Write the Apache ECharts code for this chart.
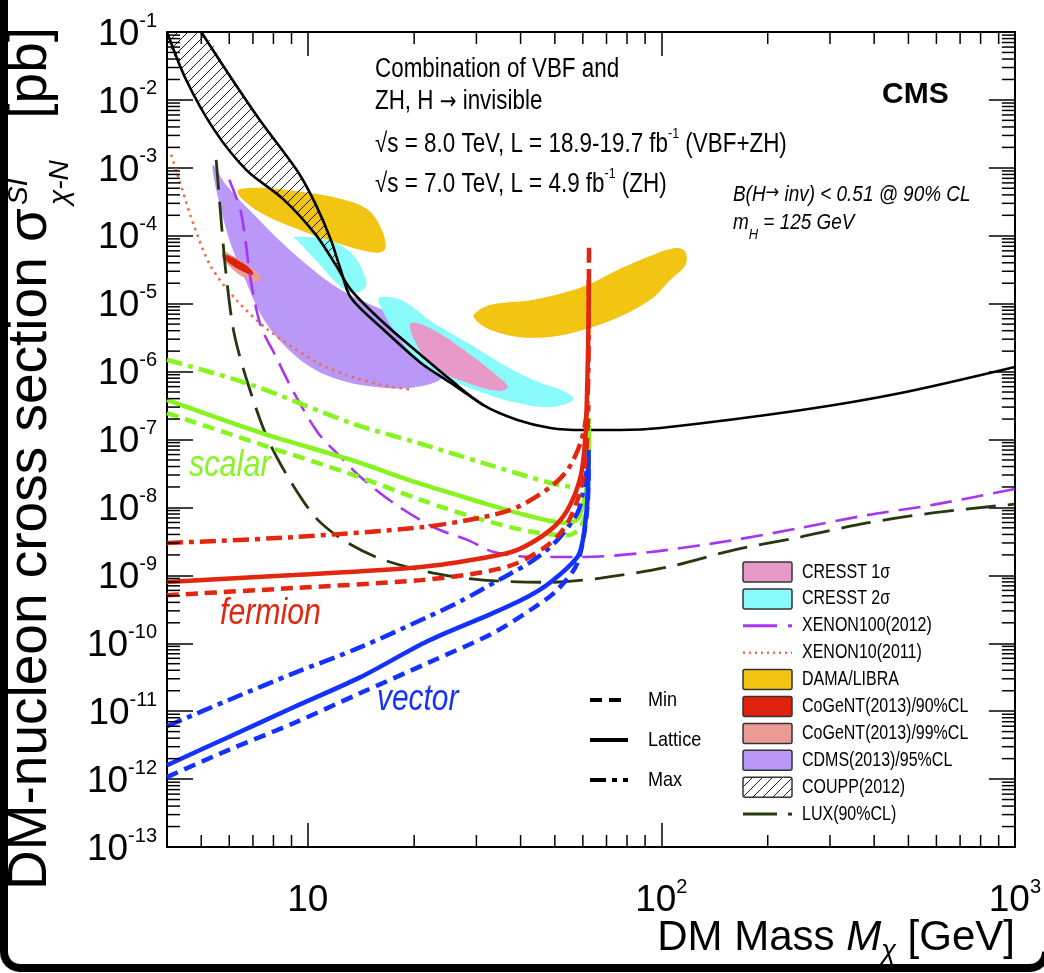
<!DOCTYPE html>
<html>
<head>
<meta charset="utf-8">
<script src="https://cdn.jsdelivr.net/npm/echarts@6/dist/echarts.min.js"></script>
<style>
html,body{margin:0;padding:0;background:#fff;overflow:hidden}
#chart{width:1044px;height:973px}
</style>
</head>
<body>
<div id="chart"></div>
<script>
// ---------------- axis ranges & tick labels ----------------
const massRange = [4, 1000];
const sigmaRange = [1e-13, 1e-1];
const xLabelValues = [10, 100, 1000];
const xMinorTicks = [5, 6, 7, 8, 9, 20, 30, 40, 50, 60, 70, 80, 90, 200, 300, 400, 500, 600, 700, 800, 900];
const yDecadeExponents = [-13, -12, -11, -10, -9, -8, -7, -6, -5, -4, -3, -2, -1];
const yMinorMultipliers = [2, 3, 4, 5, 6, 7, 8, 9];

// ---------------- CMS limits  [mass GeV, sigma pb] ----------------
const scalarMax = [[4.0,1.49e-6],[6.92,6.4e-7],[13.25,1.75e-7],[20.5,8.9e-8],[31.4,4.5e-8],[48.6,2.29e-8],[57.2,2.0e-8],[60,2.71e-8],[61.8,5.9e-8],[62.45,2.07e-7]];
const scalarLattice = [[4.0,3.82e-7],[7.38,1.25e-7],[13.25,5.0e-8],[20.5,2.29e-8],[31.4,1.16e-8],[39.2,8.3e-9],[48.6,6.3e-9],[53.6,5.9e-9],[57.9,6.7e-9],[60,1.08e-8],[61.8,2.5e-8],[62.45,1.64e-7]];
const scalarMin = [[4.0,2.45e-7],[7.73,7.8e-8],[13.25,3.1e-8],[20.9,1.29e-8],[31.4,6.5e-9],[43.5,4.34e-9],[54.3,3.9e-9],[59.1,5.1e-9],[61.8,1.16e-8],[62.45,1.29e-7]];

const fermionMax = [[4.0,2.99e-9],[9.15,3.66e-9],[20.9,5.1e-9],[31.4,7.2e-9],[39.2,1.01e-8],[48.6,2.0e-8],[54.3,3.55e-8],[59.1,8.9e-8],[61.4,2.3e-7],[62.2,1.06e-6],[62.35,1.14e-5],[62.45,6.65e-5]];
const fermionLattice = [[4.0,8.0e-10],[9.15,1.01e-9],[20.9,1.33e-9],[31.4,1.8e-9],[39.2,2.37e-9],[48.6,4.67e-9],[54.3,9.2e-9],[59.1,2.82e-8],[61.0,1.1e-7],[61.8,7.6e-7],[62.2,4.1e-6],[62.45,2.84e-5]];
const fermionMin = [[4.0,5.1e-10],[9.15,6.5e-10],[20.9,8.5e-10],[31.4,1.12e-9],[39.2,1.52e-9],[48.6,2.99e-9],[54.3,5.9e-9],[59.1,1.8e-8],[61.4,7.0e-8],[62.2,3.2e-7]];

const vectorMax = [[4.0,6.0e-12],[5.96,1.45e-11],[9.15,3.63e-11],[14.1,8.75e-11],[21.8,2.43e-10],[27.1,4.18e-10],[35.1,8.8e-10],[43.5,1.67e-9],[50.8,3.3e-9],[57.9,8.2e-9],[60,1.62e-8],[62.2,5.0e-8]];
const vectorLattice = [[4.0,1.6e-12],[5.96,4.14e-12],[9.15,1.15e-11],[14.1,3.17e-11],[21.8,1.07e-10],[33.4,2.78e-10],[41.8,4.8e-10],[48.6,7.9e-10],[57.9,1.86e-9],[60,3.3e-9],[61.8,1.29e-8],[62.3,7.0e-8]];
const vectorMin = [[4.0,1.07e-12],[5.96,2.67e-12],[9.15,6.7e-12],[14.1,1.85e-11],[21.8,5.1e-11],[33.4,1.41e-10],[44.8,3.66e-10],[50.8,6.1e-10],[57.9,1.52e-9],[61.8,1.02e-8],[62.3,4.5e-8]];

// ---------------- direct-detection limits ----------------
const xenon100 = [[6.0,6.7e-4],[6.48,2.18e-4],[6.92,2.03e-5],[7.38,4.56e-6],[8.03,1.89e-6],[9.15,4.85e-7],[10.7,1.25e-7],[12.4,5.5e-8],[14.1,2.81e-8],[17.5,1.16e-8],[22.7,5.1e-9],[28.4,3.3e-9],[33.6,2.2e-9],[43.5,1.86e-9],[60,1.86e-9],[93.1,2.2e-9],[160,3.3e-9],[247,4.98e-9],[382,7.7e-9],[586,1.09e-8],[1000,1.87e-8]];
const lux = [[5.51,1.31e-3],[5.69,1.71e-4],[5.88,2.66e-5],[6.19,3.71e-6],[6.79,6.4e-7],[7.73,9.9e-8],[9.15,2.0e-8],[10.7,6.5e-9],[13.0,2.99e-9],[16.42,1.68e-9],[22.7,1.08e-9],[31.4,8.5e-10],[48.6,7.9e-10],[67.3,9.1e-10],[104,1.32e-9],[160,2.35e-9],[247,3.66e-9],[382,5.9e-9],[586,8.3e-9],[1000,1.12e-8]];
const xenon10 = [[4.11,1.56e-3],[4.39,5.3e-4],[4.78,1.36e-4],[5.33,3.48e-5],[6.28,1.14e-5],[7.73,4.1e-6],[10.7,1.34e-6],[13.25,8.4e-7],[16.1,6.4e-7],[19.6,5.4e-7]];

// black curves (COUPP band edges and the boundary continuing to high mass)
const blackUpper = [[5.0,1e-1],[6.07,2.12e-2],[7.38,4.76e-3],[9.39,8.7e-4],[10.55,2.85e-4],[11.63,8.7e-5],[12.4,3.15e-5],[13.25,1.22e-5],[16.42,4.1e-6],[20.9,1.34e-6],[25.4,6.8e-7],[31.4,3.2e-7]];
const blackLower = [[4.0,1e-1],[4.53,1.98e-2],[5.44,3.62e-3],[6.70,9.35e-4],[8.57,3.38e-4],[10.55,1.03e-4],[12.0,3.72e-5],[13.25,1.6e-5],[16.42,5.2e-6],[20.9,1.76e-6],[25.4,7.5e-7],[31.4,3.2e-7],[39.2,1.94e-7],[48.6,1.48e-7],[60,1.38e-7],[76.6,1.38e-7],[99.5,1.48e-7],[247,2.7e-7],[472,4.8e-7],[1000,1.17e-6]];
const couppBand = [[5.0,1e-1],[6.07,2.12e-2],[7.38,4.76e-3],[9.39,8.7e-4],[10.55,2.85e-4],[11.63,8.7e-5],[12.4,3.15e-5],[12.74,2.02e-5],[12.0,3.72e-5],[10.55,1.03e-4],[8.57,3.38e-4],[6.70,9.35e-4],[5.44,3.62e-3],[4.53,1.98e-2],[4.0,1e-1]];

// signal regions (closed contours)
const damaLow = [[6.36,4.73e-4],[7.38,5.07e-4],[9.57,4.43e-4],[12.67,3.38e-4],[14.8,2.41e-4],[16.1,1.31e-4],[16.6,6.6e-5],[15.6,5.6e-5],[11.86,8.1e-5],[9.15,1.31e-4],[7.38,2.17e-4],[6.48,3.6e-4]];
const damaHigh = [[29.5,6.84e-6],[32.9,9.6e-6],[43.5,1.14e-5],[60,1.77e-5],[75.2,3.14e-5],[93.1,5.05e-5],[109.6,6.6e-5],[117,5.8e-5],[117,3.7e-5],[106,2.24e-5],[93.1,1.14e-5],[75.2,6.2e-6],[60,4.1e-6],[48.6,3.24e-6],[39.2,3.24e-6],[32.9,4.1e-6],[30.2,5.4e-6]];
const cresst2Low = [[9.15,9.6e-5],[11.41,8.7e-5],[13.25,5.6e-5],[14.4,2.84e-5],[14.6,1.77e-5],[13.5,1.44e-5],[12.4,1.77e-5],[10.7,4.0e-5],[9.39,8.4e-5]];
const cresst2High = [[15.9,1.22e-5],[18.3,1.14e-5],[22.7,5.2e-6],[28.4,2.64e-6],[35.1,1.34e-6],[43.5,7.5e-7],[54.3,4.83e-7],[56.5,3.8e-7],[48.6,3.0e-7],[39.2,3.45e-7],[31.4,4.84e-7],[25.4,7.5e-7],[20.5,1.48e-6],[17.5,4.1e-6],[16.1,8.96e-6]];
const cresst1 = [[19.6,5.2e-6],[22.7,4.1e-6],[28.4,1.88e-6],[33.6,9.5e-7],[36.8,6.0e-7],[34.4,5.2e-7],[28.4,6.8e-7],[22.7,1.17e-6],[20,2.94e-6]];
const cdms = [[5.40,1.11e-3],[5.88,5.6e-4],[6.92,2.25e-4],[8.41,8.1e-5],[10.2,3.36e-5],[12.4,1.6e-5],[15.1,9.6e-6],[18.3,6.2e-6],[21.6,3.47e-6],[24.3,1.76e-6],[24.6,9.9e-7],[23.0,7.0e-7],[19.2,5.7e-7],[15.8,5.9e-7],[12.67,7.2e-7],[10.2,1.16e-6],[8.41,2.7e-6],[7.38,6.8e-6],[6.70,2.08e-5],[6.07,7.3e-5],[5.69,2.39e-4],[5.44,6.7e-4]];
const cogent99 = [[5.77,5.8e-5],[6.28,4.7e-5],[6.92,3.37e-5],[7.38,2.4e-5],[7.15,2.1e-5],[6.48,2.57e-5],[6.0,3.6e-5],[5.73,4.7e-5]];
const cogent90 = [[5.88,5.2e-5],[6.48,4.1e-5],[6.92,3.15e-5],[7.01,2.66e-5],[6.70,2.84e-5],[6.15,3.6e-5],[5.88,4.4e-5]];

// legend / key texts
const legendNames = ['CRESST 1σ','CRESST 2σ','XENON100(2012)','XENON10(2011)','DAMA/LIBRA','CoGeNT(2013)/90%CL','CoGeNT(2013)/99%CL','CDMS(2013)/95%CL','COUPP(2012)','LUX(90%CL)'];
const keyNames = ['Min', 'Lattice', 'Max'];

// ---------------- styling ----------------
const SANS = '"Liberation Sans", Arial, Helvetica, sans-serif';
const ARROWF = '"DejaVu Sans", sans-serif';
const C = {
  green: '#86f51f', red: '#e3260f', blue: '#1432ff',
  purpleLine: '#a636f2', orangeDot: '#ef6f42', lux: '#26380f',
  dama: '#f2c513', cresst2: '#8afbfb', cresst1: '#e79ac8', cdms: '#b998f8',
  cogent90: '#df220e', cogent99: '#ec9b94'
};
const DASH = [12, 7];
const DASHDOT = [16, 6, 5, 6];

function makeHatch() {
  const c = document.createElement('canvas');
  c.width = 10; c.height = 10;
  const g = c.getContext('2d');
  g.strokeStyle = '#1a1a1a'; g.lineWidth = 1;
  g.beginPath();
  g.moveTo(0, 10); g.lineTo(10, 0);
  g.moveTo(-2, 2); g.lineTo(2, -2);
  g.moveTo(8, 12); g.lineTo(12, 8);
  g.stroke();
  return c;
}
const hatchFill = { image: makeHatch(), repeat: 'repeat' };

function region(name, pts, fill, z) {
  return {
    name: name, type: 'custom', z: z, silent: true, clip: true,
    data: [pts[0]], encode: { x: 0, y: 1 },
    renderItem: function (params, api) {
      return {
        type: 'polygon',
        shape: { points: pts.map(function (p) { return api.coord(p); }), smooth: 0.35 },
        style: { fill: fill, stroke: null }
      };
    }
  };
}
function curve(name, data, color, width, dash, z, smooth) {
  return {
    name: name, type: 'line', data: data, z: z, silent: true,
    showSymbol: false, symbol: 'none', smooth: smooth === undefined ? 0.3 : smooth,
    lineStyle: { color: color, width: width, type: dash || 'solid', cap: 'butt' }
  };
}

const yMinorTicks = [];
yDecadeExponents.slice(0, -1).forEach(function (e) {
  yMinorMultipliers.forEach(function (m) { yMinorTicks.push(m * Math.pow(10, e)); });
});

const tickStyle = { stroke: '#000', lineWidth: 1.5 };
const xMinorSeries = {
  type: 'custom', z: 30, silent: true, clip: false,
  data: xMinorTicks.map(function (v) { return [v, 1e-7]; }), encode: { x: 0, y: 1 },
  renderItem: function (params, api) {
    const v = api.value(0);
    const b = api.coord([v, sigmaRange[0]]);
    const t = api.coord([v, sigmaRange[1]]);
    return { type: 'group', children: [
      { type: 'line', shape: { x1: b[0], y1: b[1], x2: b[0], y2: b[1] - 12 }, style: tickStyle },
      { type: 'line', shape: { x1: t[0], y1: t[1], x2: t[0], y2: t[1] + 12 }, style: tickStyle }
    ]};
  }
};
const yMinorSeries = {
  type: 'custom', z: 30, silent: true, clip: false,
  data: yMinorTicks.map(function (v) { return [20, v]; }), encode: { x: 0, y: 1 },
  renderItem: function (params, api) {
    const v = api.value(1);
    const l = api.coord([massRange[0], v]);
    const r = api.coord([massRange[1], v]);
    return { type: 'group', children: [
      { type: 'line', shape: { x1: l[0], y1: l[1], x2: l[0] + 13, y2: l[1] }, style: tickStyle },
      { type: 'line', shape: { x1: r[0], y1: r[1], x2: r[0] - 13, y2: r[1] }, style: tickStyle }
    ]};
  }
};

const labelRich = {
  b: { fontSize: 37, fontFamily: SANS, color: '#000', verticalAlign: 'bottom', lineHeight: 42 },
  s: { fontSize: 20, fontFamily: SANS, color: '#000', verticalAlign: 'top', lineHeight: 22 }
};
function xFmt(v) {
  if (xLabelValues.indexOf(Math.round(v)) < 0) return '';
  const e = Math.round(Math.log10(v));
  return e === 1 ? '{b|10}' : '{b|10}{s|' + e + '}';
}
function yFmt(v) {
  const e = Math.round(Math.log10(v));
  if (yDecadeExponents.indexOf(e) < 0) return '';
  return '{b|10}{s|' + e + '}';
}
const axLine = { show: true, onZero: false, lineStyle: { color: '#000', width: 2 } };
const axTick = { show: true, inside: true, interval: 0, length: 24, lineStyle: { color: '#000', width: 1.5 } };
const common = { type: 'log', logBase: 10, splitLine: { show: false }, minorTick: { show: false }, minorSplitLine: { show: false } };

// ---------- measurements for y title layout ----------
const mctx = document.createElement('canvas').getContext('2d');
function textW(font, s) { mctx.font = font; return mctx.measureText(s).width; }
const yTitleMain = 'DM-nucleon cross section σ';
const yTitleSize = Math.round(50 * 676 / textW('50px ' + SANS, yTitleMain));
const yTitleLen = textW(yTitleSize + 'px ' + SANS, yTitleMain);

// ---------- graphic (texts, legend, frame) ----------
const G = [];
function txt(x, y, text, style, extra) {
  G.push(Object.assign({ type: 'text', x: x, y: y, z: 100, silent: true,
    style: Object.assign({ text: text, fill: '#000', fontFamily: SANS, fontSize: 25, align: 'left', verticalAlign: 'middle' }, style) }, extra || {}));
}
const NX = 0.83;   // horizontal condensing of the narrow Helvetica used in the figure
const annRich = {
  n: { fontSize: 27, fontFamily: SANS, fill: '#000', verticalAlign: 'bottom', lineHeight: 32 },
  a: { fontSize: 24, fontFamily: ARROWF, fill: '#000', verticalAlign: 'bottom', lineHeight: 31 },
  sup: { fontSize: 15, fontFamily: SANS, fill: '#000', verticalAlign: 'top', lineHeight: 15 }
};
txt(375, 67, '{n|Combination of VBF and}', { rich: annRich }, { scaleX: NX });
txt(375, 99, '{n|ZH, H }{a|→}{n| invisible}', { rich: annRich }, { scaleX: NX });
txt(375, 142, '{n|√s = 8.0 TeV, L = 18.9-19.7 fb}{sup|-1}{n| (VBF+ZH)}', { rich: annRich }, { scaleX: NX });
txt(375, 182, '{n|√s = 7.0 TeV, L = 4.9 fb}{sup|-1}{n| (ZH)}', { rich: annRich }, { scaleX: NX });
txt(882, 95, 'CMS', { fontWeight: 'bold', fontSize: 30 });
const itRich = {
  i: { fontSize: 22, fontStyle: 'italic', fontFamily: SANS, fill: '#000', verticalAlign: 'top', lineHeight: 25 },
  a: { fontSize: 19, fontStyle: 'italic', fontFamily: ARROWF, fill: '#000', verticalAlign: 'top', lineHeight: 25 },
  sub: { fontSize: 15, fontStyle: 'italic', fontFamily: SANS, fill: '#000', verticalAlign: 'bottom', lineHeight: 31 }
};
txt(733, 196, '{i|B(H}{a|→}{i| inv) < 0.51 @ 90% CL}', { rich: itRich }, { scaleX: 0.86 });
txt(733, 227, '{i|m}{sub|H}{i| = 125 GeV}', { rich: itRich }, { scaleX: 0.86 });
txt(189, 466, 'scalar', { fontStyle: 'italic', fontSize: 36, fill: C.green }, { scaleX: 0.85 });
txt(220, 614, 'fermion', { fontStyle: 'italic', fontSize: 36, fill: C.red }, { scaleX: 0.84 });
txt(377, 700, 'vector', { fontStyle: 'italic', fontSize: 36, fill: C.blue }, { scaleX: 0.83 });

// line-style key
const keyDash = [DASH, 'solid', DASHDOT];
keyNames.forEach(function (k, i) {
  const y = 700 + i * 40;
  G.push({ type: 'line', z: 100, silent: true, shape: { x1: 590, y1: y, x2: 628, y2: y },
    style: { stroke: '#000', lineWidth: 4, lineDash: keyDash[i] === 'solid' ? null : keyDash[i] } });
  txt(648, y, k, { fontSize: 21 }, { scaleX: 0.86 });
});

// legend
const legendKinds = ['box','box','line','dots','box','box','box','box','hatch','line'];
const legendColors = [C.cresst1, C.cresst2, C.purpleLine, C.orangeDot, C.dama, C.cogent90, C.cogent99, C.cdms, null, C.lux];
legendNames.forEach(function (n, i) {
  const y = 572 + i * 26.9;
  const kind = legendKinds[i];
  if (kind === 'box' || kind === 'hatch') {
    G.push({ type: 'rect', z: 100, silent: true, shape: { x: 743, y: y - 10, width: 49, height: 20, r: 2 },
      style: { fill: kind === 'hatch' ? hatchFill : legendColors[i], stroke: '#333', lineWidth: 1.5 } });
  } else if (kind === 'line') {
    G.push({ type: 'line', z: 100, silent: true, shape: { x1: 743, y1: y, x2: 777, y2: y }, style: { stroke: legendColors[i], lineWidth: 3 } });
    G.push({ type: 'line', z: 100, silent: true, shape: { x1: 788, y1: y, x2: 792, y2: y }, style: { stroke: legendColors[i], lineWidth: 3 } });
  } else {
    G.push({ type: 'line', z: 100, silent: true, shape: { x1: 743, y1: y, x2: 792, y2: y }, style: { stroke: legendColors[i], lineWidth: 2.5, lineDash: [2, 4] } });
  }
  txt(802, y, n, { fontSize: 20 }, { scaleX: 0.8 });
});

// axis titles
txt(1015, 941, '{r|DM Mass }{i|M}{sub|χ}{r| [GeV]}', { align: 'right', rich: {
  r: { fontSize: 42, fontFamily: SANS, fill: '#000', verticalAlign: 'top', lineHeight: 48 },
  i: { fontSize: 42, fontFamily: SANS, fontStyle: 'italic', fill: '#000', verticalAlign: 'top', lineHeight: 48 },
  sub: { fontSize: 27, fontFamily: SANS, fontStyle: 'italic', fill: '#000', verticalAlign: 'bottom', lineHeight: 27 } } });
txt(58, 890, yTitleMain, { fontSize: yTitleSize, align: 'left', verticalAlign: 'bottom' }, { rotation: Math.PI / 2 });
txt(33, 890 - yTitleLen - 3, 'SI', { fontStyle: 'italic', fontSize: 28, align: 'left', verticalAlign: 'bottom' }, { rotation: Math.PI / 2 });
txt(46, 890 - yTitleLen - 3, 'χ-N', { fontStyle: 'italic', fontSize: 28, align: 'left', verticalAlign: 'top' }, { rotation: Math.PI / 2 });
txt(58, 27, '[pb]', { fontSize: yTitleSize, align: 'right', verticalAlign: 'bottom' }, { rotation: Math.PI / 2 });

// outer rounded frame (left and bottom sides, bottom corners)
const framePts = [[4, -20], [4, 952]];
for (let t = 1; t <= 6; t++) { const a = Math.PI / 2 * t / 6; framePts.push([20 - 16 * Math.cos(a), 952 + 16 * Math.sin(a)]); }
framePts.push([1030, 968]);
for (let t = 1; t <= 6; t++) { const a = Math.PI / 2 * t / 6; framePts.push([1030 + 16 * Math.sin(a), 952 + 16 * Math.cos(a)]); }
G.push({ type: 'polyline', z: 200, silent: true, shape: { points: framePts }, style: { fill: null, stroke: '#000', lineWidth: 8 } });

const option = {
  animation: false,
  backgroundColor: '#fff',
  grid: { left: 167, right: 29, top: 32, bottom: 126 },
  xAxis: [
    Object.assign({}, common, { min: massRange[0], max: massRange[1], splitNumber: 3, position: 'bottom', axisLine: axLine, axisTick: axTick,
      axisLabel: { show: true, interval: 0, margin: 30, formatter: xFmt, rich: labelRich, showMinLabel: false, hideOverlap: false } }),
    Object.assign({}, common, { min: massRange[0], max: massRange[1], splitNumber: 3, position: 'top', axisLine: axLine, axisTick: axTick, axisLabel: { show: false } })
  ],
  yAxis: [
    Object.assign({}, common, { min: sigmaRange[0], max: sigmaRange[1], interval: 1, splitNumber: 12, position: 'left', axisLine: axLine,
      axisTick: Object.assign({}, axTick, { length: 26 }),
      axisLabel: { show: true, interval: 0, margin: 10, formatter: yFmt, rich: labelRich, hideOverlap: false } }),
    Object.assign({}, common, { min: sigmaRange[0], max: sigmaRange[1], interval: 1, splitNumber: 12, position: 'right', axisLine: axLine,
      axisTick: Object.assign({}, axTick, { length: 26 }), axisLabel: { show: false } })
  ],
  series: [
    region('DAMA/LIBRA', damaLow, C.dama, 2),
    region('DAMA/LIBRA', damaHigh, C.dama, 2),
    region('CDMS', cdms, C.cdms, 3),
    region('CRESST 2σ', cresst2Low, C.cresst2, 4),
    region('CRESST 2σ', cresst2High, C.cresst2, 4),
    region('CRESST 1σ', cresst1, C.cresst1, 5),
    region('CoGeNT 99', cogent99, C.cogent99, 6),
    region('CoGeNT 90', cogent90, C.cogent90, 7),
    region('COUPP', couppBand, hatchFill, 8),
    curve('black upper', blackUpper, '#000', 2.6, 'solid', 9),
    curve('black lower', blackLower, '#000', 2.6, 'solid', 9),
    curve('XENON10', xenon10, C.orangeDot, 2.6, [2.5, 4.5], 10),
    curve('XENON100', xenon100, C.purpleLine, 2.6, [22, 10], 10),
    curve('LUX', lux, C.lux, 2.8, [30, 12], 10),
    curve('scalar max', scalarMax, C.green, 4.5, DASHDOT, 12),
    curve('scalar lattice', scalarLattice, C.green, 4.5, 'solid', 12),
    curve('scalar min', scalarMin, C.green, 4.5, DASH, 12),
    curve('vector max', vectorMax, C.blue, 4.5, DASHDOT, 13),
    curve('vector lattice', vectorLattice, C.blue, 4.5, 'solid', 13),
    curve('vector min', vectorMin, C.blue, 4.5, DASH, 13),
    curve('fermion max', fermionMax, C.red, 4.5, DASHDOT, 14),
    curve('fermion lattice', fermionLattice, C.red, 4.5, 'solid', 14),
    curve('fermion min', fermionMin, C.red, 4.5, DASH, 14),
    xMinorSeries,
    yMinorSeries
  ],
  graphic: { elements: G }
};

const chart = echarts.init(document.getElementById('chart'), null, { renderer: 'canvas', width: 1044, height: 973 });
chart.setOption(option);
</script>
</body>
</html>
